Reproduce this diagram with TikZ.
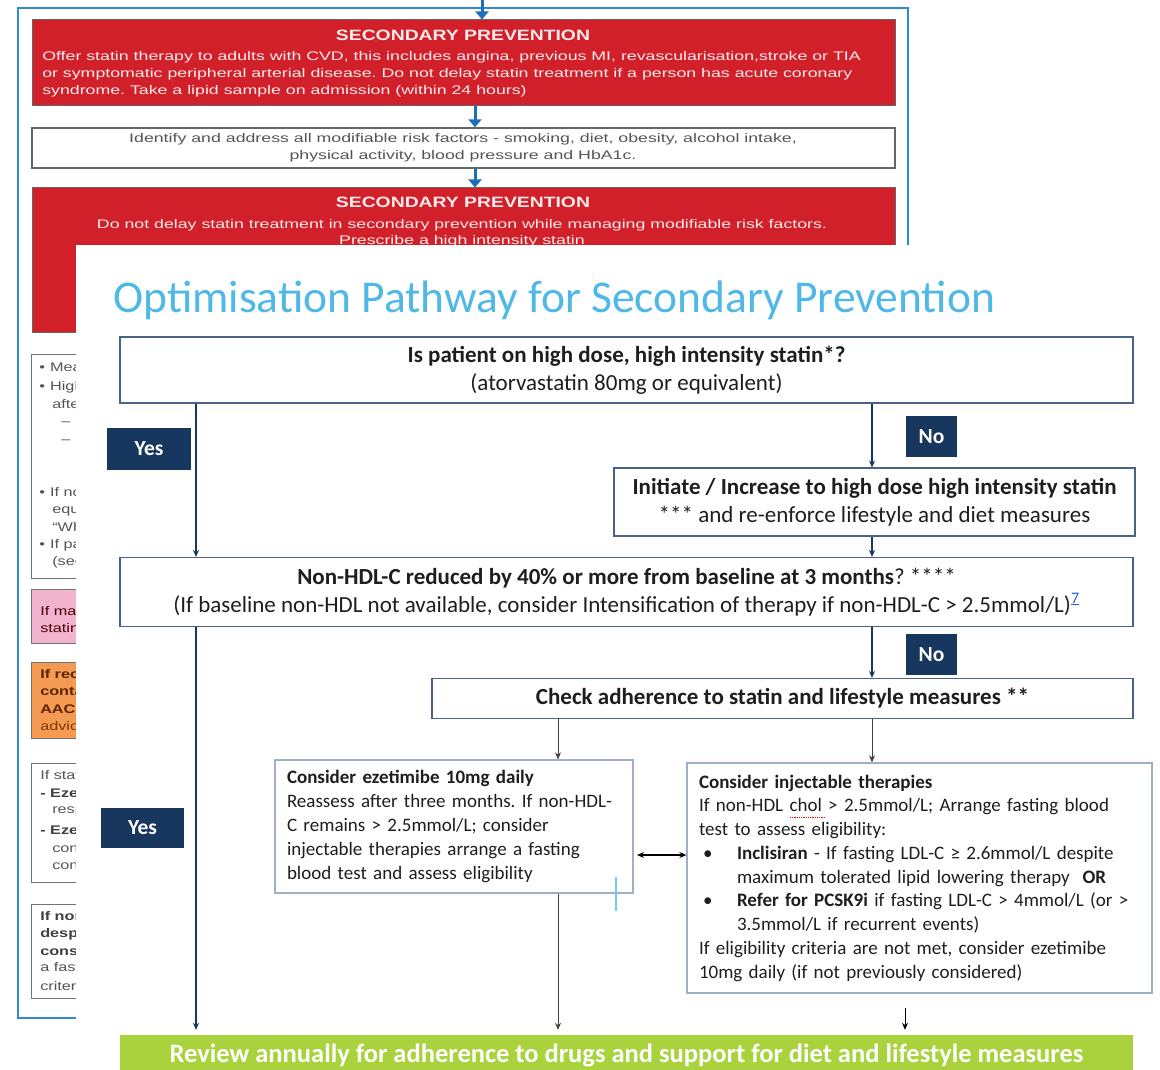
\documentclass[tikz,border=0pt]{standalone}
\usepackage{fontspec}
\setmainfont{Carlito}
\newfontfamily\bgfont{Liberation Sans}
\usetikzlibrary{arrows.meta}
\frenchspacing
\definecolor{bgred}{HTML}{D2202A}
\definecolor{bgblue}{HTML}{2E8BCB}
\definecolor{arrblue}{HTML}{1F6FB8}
\definecolor{titleblue}{HTML}{4FB8E6}
\definecolor{navy}{HTML}{17375E}
\definecolor{boxline}{HTML}{4A6285}
\definecolor{lightline}{HTML}{9FB0C6}
\definecolor{greenbar}{HTML}{A9D23C}
\definecolor{txt}{HTML}{1E1E1E}
\definecolor{bgtxt}{HTML}{555555}
\definecolor{pinkfill}{HTML}{F2B3CF}
\definecolor{orangefill}{HTML}{F59A52}
\definecolor{brown}{HTML}{5A2600}
\definecolor{linkblue}{HTML}{1F5FD0}
\definecolor{cursor}{HTML}{6FCBF0}
\tikzset{
  redbox/.style={fill=bgred, draw=black!60, line width=1pt, inner sep=0pt},
  bgbox/.style={fill=white, draw=black!55, line width=1.4pt, inner sep=0pt},
  bgtitle/.style={font=\bgfont\bfseries\fontsize{15}{18}\selectfont, text=white!92!red, xscale=1.29, inner sep=0pt},
  bgline/.style={font=\bgfont\fontsize{12.5}{17}\selectfont, xscale=1.42, inner sep=0pt},
  bgarrow/.style={arrblue, line width=3pt, -{Triangle[length=8pt,width=13pt]}},
  lt/.style={font=\bgfont\fontsize{12.5}{17}\selectfont, text=bgtxt, xscale=1.3, inner sep=0pt, anchor=west},
  ltb/.style={lt, font=\bgfont\bfseries\fontsize{12.5}{17}\selectfont},
  pbox/.style={draw=boxline, line width=1.1pt, fill=white, inner sep=0pt, text=txt},
  ebox/.style={draw=lightline, line width=1.3pt, fill=white, inner sep=0pt, text=txt},
  tag/.style={fill=navy, text=white, font=\bfseries\fontsize{21.5}{24}\selectfont, inner sep=0pt},
  mainarr/.style={draw=navy, line width=1.5pt, -{Stealth[length=7pt,width=6pt]}},
  thinarr/.style={draw=black!75, line width=0.9pt, -{Stealth[length=7pt,width=6pt]}},
}
\begin{document}
\begin{tikzpicture}[x=1pt,y=-1pt]
\useasboundingbox (0,0) rectangle (1160,1070);
\fill[white] (0,0) rectangle (1160,1070);

% ---------------- background document ----------------
\draw[bgblue, line width=1.3pt] (18,8) rectangle (908,1018);
\node[redbox, minimum width=863pt, minimum height=86pt] (r1) at (463.5,63) {};
\node[redbox, minimum width=863pt, minimum height=144pt] (r2) at (463.5,260) {};
\node[bgbox, minimum width=863pt, minimum height=40pt, draw=black!60] (w1) at (463.5,148) {};
\coordinate (topin) at (482,0);
\coordinate (xa) at (475,0);
\draw[bgarrow] (topin) -- (r1.north -| topin);
\draw[bgarrow] (r1.south -| xa) -- (w1.north -| xa);
\draw[bgarrow] (w1.south -| xa) -- (r2.north -| xa);

\node[bgtitle] (r1t) at (463,35) {SECONDARY PREVENTION};
\node[bgline, text=white!92!red, anchor=west] (r1a) at (42,57) {Offer statin therapy to adults with CVD, this includes angina, previous MI, revascularisation,stroke or TIA};
\node[bgline, text=white!92!red, anchor=west] (r1b) at (42,74) {or symptomatic peripheral arterial disease. Do not delay statin treatment if a person has acute coronary};
\node[bgline, text=white!92!red, anchor=west] (r1c) at (42,91) {syndrome. Take a lipid sample on admission (within 24 hours)};
\node[bgline, text=bgtxt] (w1a) at (463,139) {Identify and address all modifiable risk factors - smoking, diet, obesity, alcohol intake,};
\node[bgline, text=bgtxt] (w1b) at (463,156) {physical activity, blood pressure and HbA1c.};
\node[bgtitle] (r2t) at (463,202) {SECONDARY PREVENTION};
\node[bgline, text=white!92!red] (r2a) at (462,225) {Do not delay statin treatment in secondary prevention while managing modifiable risk factors.};
\begin{scope}
\clip (0,0) rectangle (1160,245);
\node[bgline, text=white!92!red] (r2b) at (462,241) {Prescribe a high intensity statin};
\end{scope}

% left column boxes of the background document
\node[bgbox, minimum width=300pt, minimum height=224pt, anchor=north west] (b1) at (31,354) {};
\node[bgbox, fill=pinkfill, minimum width=300pt, minimum height=54pt, anchor=north west] (b2) at (31,589) {};
\node[bgbox, fill=orangefill, minimum width=300pt, minimum height=76pt, anchor=north west] (b3) at (31,662) {};
\node[bgbox, minimum width=300pt, minimum height=119pt, anchor=north west] (b4) at (31,763) {};
\node[bgbox, minimum width=300pt, minimum height=94pt, anchor=north west] (b5) at (31,904) {};

\begin{scope}
\clip (0,245) rectangle (76,1070);
\node[lt] (l1) at (39,367) {•\hspace{4pt}Measure};
\node[lt] (l2) at (39,387) {•\hspace{4pt}High intensity};
\node[lt] (l3) at (52,404) {after};
\node[lt] (l4) at (61,422) {–\hspace{8pt}x};
\node[lt] (l5) at (61,440) {–\hspace{8pt}x};
\node[lt] (l6) at (39,492) {•\hspace{4pt}If not};
\node[lt] (l7) at (52,510) {equivalent};
\node[lt] (l8) at (52,527) {“When};
\node[lt] (l9) at (39,545) {•\hspace{4pt}If patient};
\node[lt] (l10) at (52,562) {(see};
\node[lt, text=black!70!red] (l11) at (40,612) {If managing};
\node[lt, text=black!70!red] (l12) at (40,628) {statins};
\node[ltb, text=brown] (l13) at (40,674) {If recurrent};
\node[ltb, text=brown] (l14) at (40,691) {contact};
\node[ltb, text=brown] (l15) at (40,709) {AAC};
\node[lt, text=brown!80!orange] (l16) at (40,726) {advice};
\node[lt] (l17) at (40,775) {If statin};
\node[ltb, text=black!75] (l18) at (40,793) {- Ezetimibe};
\node[lt] (l19) at (52,811) {response};
\node[ltb, text=black!75] (l20) at (40,830) {- Ezetimibe};
\node[lt] (l21) at (52,848) {consider};
\node[lt] (l22) at (52,866) {contra};
\node[ltb, text=black!75] (l23) at (40,916) {If non};
\node[ltb, text=black!75] (l24) at (40,934) {despite};
\node[ltb, text=black!75] (l25) at (40,951) {consider};
\node[lt] (l26) at (40,968) {a fasting};
\node[lt] (l27) at (40,986) {criteria};
\end{scope}

% ---------------- front panel ----------------
\fill[white] (76,245) rectangle (1160,1070);
\node[anchor=base west, font=\fontsize{45.5}{46}\selectfont, text=titleblue, inner sep=0pt] (title) at (113,312) {Optimisation Pathway for Secondary Prevention};

\node[pbox, minimum width=1013pt, minimum height=66pt, align=center, font=\fontsize{23}{28}\selectfont] (qA) at (626.5,370)
  {\textbf{Is patient on high dose, high intensity statin*?}\\(atorvastatin 80mg or equivalent)};
\node[pbox, minimum width=521pt, minimum height=68pt, align=center, font=\fontsize{23}{28}\selectfont] (qB) at (874.5,502)
  {\textbf{Initiate / Increase to high dose high intensity statin}\\*** and re-enforce lifestyle and diet measures};
\node[pbox, minimum width=1013pt, minimum height=69pt, align=center, font=\fontsize{23}{28}\selectfont] (qC) at (626.5,592)
  {\textbf{Non-HDL-C reduced by 40\% or more from baseline at 3 months}? ****\\(If baseline non-HDL not available, consider Intensification of therapy if non-HDL-C > 2.5mmol/L)\textsuperscript{\color{linkblue}\underline{7}}};
\node[pbox, minimum width=701pt, minimum height=40pt, font=\bfseries\fontsize{23}{26}\selectfont] (qD) at (782.5,698.5)
  {Check adherence to statin and lifestyle measures **};
\node[ebox, minimum width=358pt, minimum height=133pt, text width=334pt, align=left, font=\fontsize{19}{23.8}\selectfont] (qE) at (454,826.5)
  {\textbf{Consider ezetimibe 10mg daily}\\Reassess after three months. If non-HDL-\\C remains > 2.5mmol/L; consider\\injectable therapies arrange a fasting\\blood test and assess eligibility};
\node[ebox, minimum width=465pt, minimum height=230pt, text width=441pt, align=left, font=\fontsize{19}{23.75}\selectfont] (qF) at (919.5,878)
  {\textbf{Consider injectable therapies}\\If non-HDL chol > 2.5mmol/L; Arrange fasting blood\\test to assess eligibility:\\
   \makebox[38pt][l]{\hspace*{4pt}•}\textbf{Inclisiran} - If fasting LDL-C ≥ 2.6mmol/L despite\\
   \hspace*{38pt}maximum tolerated lipid lowering therapy\ \ \textbf{OR}\\
   \makebox[38pt][l]{\hspace*{4pt}•}\textbf{Refer for PCSK9i} if fasting LDL-C > 4mmol/L (or >\\
   \hspace*{38pt}3.5mmol/L if recurrent events)\\
   If eligibility criteria are not met, consider ezetimibe\\10mg daily (if not previously considered)};
\node[fill=greenbar, minimum width=1013pt, minimum height=40pt, inner sep=0pt, text=white, font=\bfseries\fontsize{26.5}{28}\selectfont] (gr) at (626.5,1055)
  {Review annually for adherence to drugs and support for diet and lifestyle measures};

\node[tag, minimum width=84pt, minimum height=42pt] (yes1) at (149,449) {Yes};
\node[tag, minimum width=83pt, minimum height=40pt] (yes2) at (142.5,828) {Yes};
\node[tag, minimum width=51pt, minimum height=41pt] (no1) at (931.5,436.5) {No};
\node[tag, minimum width=51pt, minimum height=41pt] (no2) at (931.5,654.5) {No};

% connectors
\coordinate (xl) at (196,0);
\coordinate (xr) at (872,0);
\coordinate (xm) at (558,0);
\coordinate (xf) at (905,0);
\coordinate (fstub) at (905,1008);
\coordinate (dA) at (637,855);
\draw[mainarr] (qA.south -| xl) -- (qC.north -| xl);
\draw[mainarr] (qA.south -| xr) -- (qB.north -| xr);
\draw[mainarr] (qB.south -| xr) -- (qC.north -| xr);
\draw[mainarr] (qC.south -| xl) -- ([yshift=5pt]gr.north -| xl);
\draw[mainarr] (qC.south -| xr) -- (qD.north -| xr);
\draw[thinarr] (qD.south -| xm) -- (qE.north -| xm);
\draw[thinarr] (qD.south -| xr) -- (qF.north -| xr);
\draw[thinarr] (qE.south -| xm) -- ([yshift=5pt]gr.north -| xm);
\draw[thinarr, draw=black] (fstub) -- ([yshift=5pt]gr.north -| xf);
\draw[draw=black, line width=1.2pt, {Stealth[length=7pt,width=6pt]}-{Stealth[length=7pt,width=6pt]}] (dA) -- (dA -| qF.west);
% spell-check mark and cursor
\draw[red, line width=0.8pt, densely dotted] (790,817) -- (825,817);
\draw[cursor, line width=1.2pt] (616,877) -- (616,911);
\end{tikzpicture}
\end{document}
